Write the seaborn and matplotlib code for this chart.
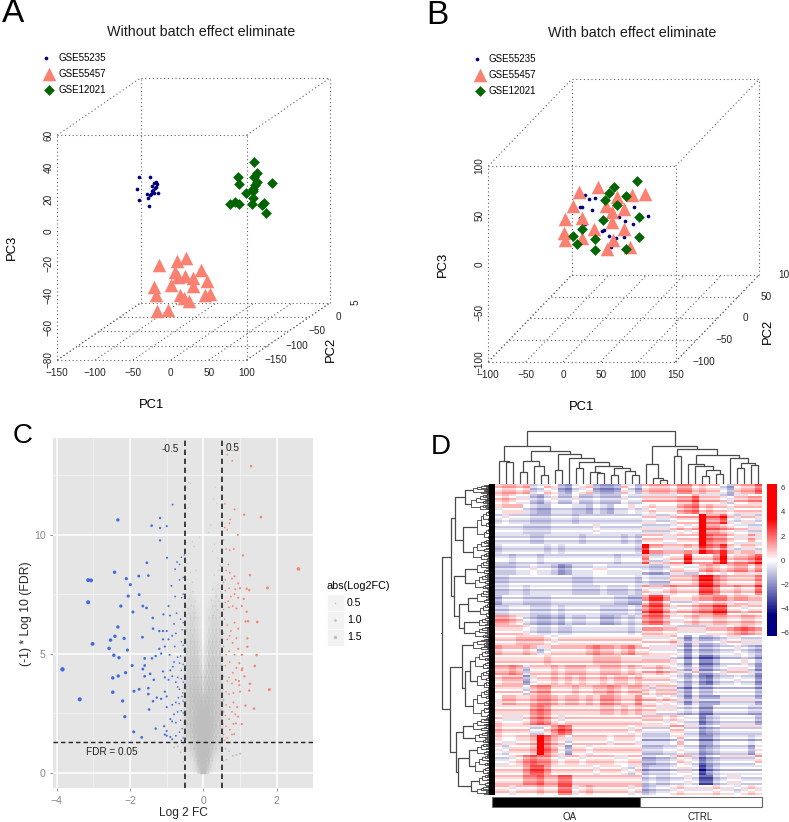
import numpy as np
import pandas as pd
import matplotlib
matplotlib.use("Agg")
import matplotlib.pyplot as plt
from matplotlib.colors import LinearSegmentedColormap
from matplotlib.patches import Rectangle
import seaborn as sns

sns.set_style("white")
plt.rcParams['font.family'] = ['Liberation Sans', 'DejaVu Sans']

W, H = 789, 822
NAVY, SALMON, GREEN = '#00007F', '#FA8072', '#006400'
BATCHES = ['GSE55235', 'GSE55457', 'GSE12021']

# ---- panel A (apparent PC1 / PC3 on the front plane of the box)
a_dot_pc1 = [-42.2,-27.2,-45.2,-42.2,-29,-29.8,-32,-26.8,-22,-16.6,-23.2,-20.2,-25,-19.7,-22.4,-18.8,-21,-24.6,-28]
a_dot_pc3 = [33.7,33.9,26.4,19.6,15.6,20.6,23.1,23.3,24.1,24.1,25.8,27.9,28.5,30.8,30,29.5,26.8,25.4,22.7]
a_tri_pc1 = [-15.8,8,19.5,39.3,4.9,18.6,29.6,8.9,48,0.5,28.7,-22,-20,12,17.7,23.4,45.4,51.6,-18.4,-3.4]
a_tri_pc3 = [-20.9,-18.2,-16.7,-24,-25,-27.7,-28.8,-28.1,-30.6,-33.3,-34,-34.4,-39.5,-39.8,-41.2,-43.3,-39.5,-39,-49.3,-48.7]
a_dia_pc1 = [110,89,113.2,109.7,90.3,113.2,111,133.9,108.8,99,107.9,108.8,78.4,85,90.3,106.6,122.9,119.8,126]
a_dia_pc3 = [43.4,34.1,36.2,33.7,29.5,31,28.9,30.2,26.2,23.9,25.4,20.8,17.1,18.1,16.9,17.1,17.7,16.5,11.3]
# ---- panel B
b_dot_pc1 = [29,34.3,42.3,22.3,25,38.8,21.9,29,94.4,73.9,82.4,112.6,93.5,51.2,54.4,61.5,69.9,81,63.3]
b_dot_pc3 = [70.4,66.3,67,57.8,57.8,55,46.8,40.7,58.4,48.2,44.1,48.6,40.4,33.9,34.6,28.4,26.7,27.1,17.5]
b_tri_pc1 = [20.6,46.8,72.2,91.7,109,12.5,57,81,65,1.9,25,65,41.5,81,0.5,2.8,25,66.8,58.8,89.5]
b_tri_pc3 = [73,78.9,68.7,70.4,71.7,59,59,56.4,53.3,46.2,46.8,42.4,35.9,35.6,31.9,24.4,26,24.4,14.8,17.2]
b_dia_pc1 = [98.4,67.7,60.6,84.2,55.7,71.7,100.6,53,25,13.4,41.9,100.6,18.8,42.8,83.7]
b_dia_pc3 = [85,78.9,72.7,69.7,65.2,60.5,47.9,44.8,35.9,28.4,25.4,27.4,20.3,14.5,14.8]
a_pc1_ticks = [-150,-100,-50,0,50,100]
a_pc2_ticks = [-150,-100,-50,0,50]
a_pc3_ticks = [-80,-60,-40,-20,0,20,40,60]
b_pc1_ticks = [-100,-50,0,50,100,150]
b_pc2_ticks = [-100,-50,0,50,100]
b_pc3_ticks = [-100,-50,0,50,100]

# ---- panel C
blue_fc = [-3.84,-3.37,-3.14,-3.06,-3.14,-3.02,-2.33,-2.42,-2.10,-1.99,-2.05,-2.25,-1.92,-2.33,-2.41,-2.53,-2.16,-2.57,-2.07,-2.44,-2.3,-1.94,-2.12,-2.32,-2.47,-2.47,-2.2,-2.14,-1.89,-1.9,-1.68,-1.76,-1.5,-1.54,-1.75,-1.65,-1.55,-1.38,-1.37,-1.66,-1.41,-1.18,-1.18,-1.0,-1.18,-0.84,-0.99,
 -0.59,-0.55,-0.77,-0.95,-0.91,-1.09,-0.73,-0.65,-0.87,-0.52,-0.6,-0.72,-0.65,-0.77,-0.55,-0.62,-0.8,-0.55,-0.58,-0.75,-0.85,-0.95,-1.0,-1.1,-1.2,-1.1,-1.05,-1.2,-1.15,-1.3,-1.4,-1.6,-1.65,-1.6,-1.75,-1.5,-1.45,-1.6,-1.35,-1.5,-1.37,-1.48,-1.27,-1.15,-1.05,-1.0,-1.1,-1.05,-0.95,-0.9,-0.8,-0.7,-0.65,-0.6,-0.55,-0.85,-0.75,-0.7,-0.6,-0.55,-0.65,-0.58,-0.55,-0.75,-0.85,-1.0,-0.8,-0.9,-0.7,-0.6,-0.55,-0.62,-0.52,-0.75,-0.85,-1.07,-1.05,-1.0,-1.3,-1.0,-0.85,-0.75,-0.65,-0.55,-0.6,-0.9,-0.55,-0.6,-0.7,-0.62,-0.53,-0.78,-0.92,-0.83,-0.68,-0.56,-0.66,-0.58]
blue_log = [4.34,3.08,8.09,8.08,7.16,5.41,10.62,8.42,8.15,7.9,7.42,7.0,6.75,6.12,5.73,5.57,5.64,5.22,5.15,4.93,4.83,4.5,4.2,4.06,3.98,3.38,3.01,2.35,3.42,1.71,1.48,8.26,8.28,8.82,7.48,7.0,6.92,6.5,6.05,5.69,10.38,10.7,10.28,10.36,9.76,11.26,9.03,
 7.35,7.5,7.4,7.0,6.6,6.65,6.7,8.1,7.85,9.15,9.05,8.85,8.75,8.55,8.2,6.45,6.25,6.3,6.0,5.85,5.75,5.6,5.95,5.95,5.95,5.6,5.3,5.2,5.0,4.9,4.8,4.8,4.35,4.5,3.5,3.55,4.15,4.05,3.9,3.3,3.0,2.65,3.15,3.1,3.4,3.2,4.25,4.0,3.9,4.3,4.65,4.85,4.6,4.3,4.55,4.05,3.8,3.6,3.95,3.8,3.5,3.2,3.0,2.95,2.85,2.75,2.45,2.25,2.55,2.6,2.5,2.2,2.1,2.1,2.15,1.95,1.6,1.75,1.85,1.55,1.4,1.55,1.7,1.45,1.35,1.5,5.35,5.5,4.0,4.9,5.15,5.3,4.95,4.45,3.15,3.35,2.9,1.85]
red_fc = [2.59,1.3,0.79,0.65,1.57,1.11,0.85,0.59,0.73,0.71,0.94,0.55,1.08,1.75,1.8,1.47,1.18,1.45,1.4,1.38,1.27,1.25,1.18,1.22,1.15,1.2,1.2,1.06,1.05,1.27,1.25,1.15,1.05,0.98,0.89,0.84,
 0.55,0.62,0.68,0.78,0.85,0.95,0.6,0.7,0.87,1.0,0.6,0.68,0.75,0.85,0.95,1.1,0.55,0.7,0.8,0.9,1.05,0.58,0.65,0.75,0.85,0.95,0.55,0.65,0.72,0.8,0.9,0.55,0.62,0.7,0.85,0.95,1.05,0.52,0.6,0.72,0.8,0.9,0.98,0.55,0.65,0.7,0.78,0.88,0.97,1.12,0.53,0.62,0.7,0.82,1.0,0.55,0.62,0.72,0.82,0.92,0.55,0.6,0.7,0.78,0.87,0.95,0.53,0.62,0.72,0.82,0.55,0.65,0.78,0.58,0.72,0.62,0.72,0.83,0.6,0.58,0.65]
red_log = [8.56,12.88,13.1,13.36,10.74,10.84,11.06,11.3,10.64,10.48,9.99,9.78,9.13,7.76,3.49,6.33,6.76,4.94,4.48,2.69,8.3,7.67,7.73,6.36,6.35,5.64,5.29,4.38,4.31,3.73,3.45,2.82,2.04,3.68,2.07,1.62,
 8.0,8.5,8.75,8.15,8.25,7.95,7.65,7.75,7.7,7.75,7.15,7.2,7.4,7.5,7.35,7.3,6.85,6.95,7.0,6.9,7.0,6.45,6.2,5.95,6.3,6.05,5.85,5.6,5.75,5.45,5.65,5.3,4.95,5.1,4.95,5.2,4.95,4.75,4.5,4.65,4.2,4.4,4.6,4.05,3.85,4.0,3.75,3.9,3.85,4.05,3.55,3.4,3.3,3.35,3.4,3.05,2.85,2.75,2.95,2.75,2.55,2.4,2.25,2.55,2.45,2.35,2.05,1.95,1.8,2.05,1.6,1.45,1.6,1.35,8.4,9.4,9.35,9.4,8.1,10.3,10.2]
grey_fc = [-0.4,-0.35,-0.35,-0.45,0.32,0.28,0.37,-0.1,0.15,0.2,-0.3,-0.25,0.3,0.25,-0.4,-0.45,0.4,0.45,-0.35,-0.2,0.3,0.42,-0.45,-0.3,0.4,0.25,-0.28,0.35,0.42,-0.38,-0.46,-0.33,0.3,0.47,0.22,-0.22,-0.55,-0.7,0.9,0.8,1.0,-0.55,-0.8,0.6,0.7,-0.5,0.5,0.55,-0.62,0.63,-0.42,0.38,-0.25,0.27,-0.35,0.44]
grey_log = [12.2,12.15,11.3,11.1,12.0,11.5,11.3,9.9,10.1,10.4,9.7,9.5,9.6,9.3,9.2,8.8,9.0,8.7,8.4,8.5,8.3,8.5,8.1,8.0,7.9,7.7,7.6,7.4,7.2,7.3,7.7,7.05,7.0,7.6,7.25,7.2,1.2,1.1,0.75,0.7,0.8,0.45,1.05,1.0,0.9,0.8,0.8,0.5,0.85,0.55,6.9,6.85,6.7,6.6,6.5,6.55]
cloud_x = [-0.55,-0.45,-0.35,-0.25,-0.15,-0.05,0.05,0.15,0.25,0.35,0.45,0.55]
cloud_y = [-0.05,0.5,1,1.5,2,2.5,3,3.5,4,4.5,5,5.5,6,6.5,7,7.5,8]
cloud_density = [
 [0,0,0,0,1,8,8,1,0,0,0,0],
 [0,0,0,1,6,9,9,6,1,0,0,0],
 [0,1,2,4,8,9,9,8,4,2,1,0],
 [1,3,4,6,9,9,9,9,6,4,3,1],
 [1,4,5,7,9,9,9,9,7,5,4,1],
 [1,4,5,6,8,9,9,8,6,5,4,1],
 [1,4,5,6,7,7,7,7,6,5,4,1],
 [1,4,5,6,6,4,4,6,6,5,4,1],
 [0,3,4,5,4,3,3,4,5,4,3,0],
 [0,3,4,4,4,1,1,4,4,4,3,0],
 [0,3,3,4,3,1,1,3,4,3,3,0],
 [0,2,3,3,2,0,0,2,3,3,2,0],
 [0,2,2,2,1,0,0,1,2,2,2,0],
 [0,1,2,2,1,0,0,1,2,2,1,0],
 [0,1,1,1,0,0,0,0,1,1,1,0],
 [0,0,1,0,0,0,0,0,0,1,0,0],
 [0,0,0,0,0,0,0,0,0,0,0,0]]
size_legend = [0.5, 1.0, 1.5]

# ---- panel D (half units), 31 coarse row blocks x 38 samples (21 OA, 17 CTRL)
heat_blocks = [
 [1,2,2,1,2,-2,-1,1,0,-3,-4,-1,0,1,-3,-4,-4,-3,1,-1,-3, 1,2,2,2,1,3,3,1,2,1,1,-1,-3,1,2,2,4],
 [1,2,1,0,0,-2,-3,-1,0,-2,-2,0,-2,-2,-1,-2,-2,-2,0,-1,-1, 1,1,1,1,1,2,2,4,1,1,1,0,-1,1,1,2,2],
 [0,1,1,1,-1,-2,-3,-3,-1,-1,-1,-2,-2,-3,-1,-2,-3,-1,-1,0,-1, 0,1,0,0,0,2,3,4,1,2,1,1,0,1,1,1,1],
 [-1,0,-1,-1,-1,-2,-2,-2,-1,-1,-1,-2,-1,-1,-1,-1,-1,-1,-1,-1,-1, 0,0,-1,-1,0,1,1,1,8,3,3,5,0,-1,0,0,-1],
 [-1,-1,-1,-1,-2,-2,-2,-2,-1,-1,-1,-1,-1,-1,0,-1,-1,-1,-1,-1,-1, -1,-1,-1,-1,0,1,0,1,9,3,3,2,1,0,0,-1,-1],
 [-1,-1,-1,-1,-1,-2,-2,-1,-1,-1,-1,-1,-2,-1,-1,-1,-1,-1,-2,-1,-2, 1,1,1,0,0,1,1,1,9,4,3,3,1,0,0,2,0],
 [-2,-1,-1,-1,-1,-1,-1,-2,-1,-2,-1,-1,-1,-1,-1,-1,-1,-1,-1,-1,-2, 7,2,2,1,1,1,2,1,6,4,3,5,1,0,1,1,0],
 [-1,-1,-2,-1,-1,-1,-2,-1,-1,-1,-1,-1,-1,-1,-1,-1,-1,-2,-1,-1,-1, 3,-1,-1,0,1,1,6,1,1,1,3,7,1,2,2,3,5],
 [-2,-2,-2,-1,-1,0,-1,-1,-2,-4,-3,-1,-1,-1,0,0,-1,-1,-1,-1,-1, -1,-2,-2,-1,1,1,0,0,2,3,2,1,2,3,3,1,3],
 [-2,-2,-1,-1,-1,-1,-1,-1,-1,-1,-1,-2,-2,-2,-1,-1,-1,-1,-1,-1,-2, -1,-2,-2,-2,1,1,1,2,6,6,3,2,1,1,1,1,3],
 [-2,-2,-1,-1,-2,-1,-1,-1,-1,-1,-1,-2,-2,-2,-2,-1,-2,-2,-2,-1,-2, 1,0,0,1,2,1,1,1,5,5,3,1,1,2,1,1,4],
 [-3,-1,-1,-1,-2,-2,-2,-2,-1,-1,-1,-1,-1,-1,-1,-1,-1,-2,-2,-3,-3, 2,5,5,2,0,0,0,1,2,2,3,3,1,2,2,1,1],
 [-2,-2,-1,-1,-1,-2,-2,-2,-1,-2,-1,-1,-1,-1,-1,-2,-2,-2,-2,-1,-2, 3,5,5,2,0,1,1,2,3,3,5,5,1,1,0,1,1],
 [3,3,2,1,-1,-2,-3,-3,-2,-3,-1,-2,-2,-1,-1,-3,-3,-2,-1,-2,-1, 3,4,4,2,0,0,1,2,1,1,2,2,1,1,2,2,1],
 [1,1,1,1,0,-1,-2,-2,-1,-2,-2,-1,-1,-1,-1,-1,-1,-1,-1,-2,-1, 2,2,2,1,1,0,0,0,0,1,1,1,2,3,4,3,2],
 [1,1,1,2,2,2,2,1,0,1,1,1,1,1,1,1,1,1,1,1,1, 0,0,0,0,1,-1,-4,-1,-3,-3,-2,-1,0,0,-1,-1,-1],
 [2,1,1,1,2,1,-2,0,1,1,1,1,1,2,3,2,2,1,2,3,1, 1,0,0,0,0,-1,-4,-1,-3,-3,-2,-1,-1,0,-1,-2,-3],
 [1,1,1,1,1,1,1,2,1,1,1,1,1,1,2,2,2,2,1,1,1, 1,1,1,1,0,-1,-4,-1,-5,-5,-3,-1,-1,-1,0,-1,-3],
 [2,2,3,2,-2,1,1,1,2,1,2,2,2,1,1,2,2,2,1,2,1, 1,1,2,1,0,-1,-3,0,-4,-4,-2,-1,0,0,0,-1,-4],
 [1,2,2,2,-3,0,1,1,2,1,2,1,2,1,1,2,1,2,2,1,2, 1,1,1,1,0,-1,-3,-1,-4,-5,-2,-1,-1,0,-1,-1,-4],
 [1,1,1,1,-1,2,3,3,1,1,1,2,1,1,2,2,3,2,1,2,2, 1,0,1,1,1,-2,-4,-1,-3,-3,-1,-1,-1,-1,-1,-1,-3],
 [0,2,2,1,1,2,3,3,2,1,2,2,1,2,1,3,3,2,1,1,3, 1,1,0,1,0,-1,-4,-1,-3,-3,-3,-1,-1,-1,-1,-1,-3],
 [1,1,1,1,1,3,4,3,1,1,1,1,1,1,1,2,2,1,2,1,2, 1,1,0,0,0,-1,-2,-1,-4,-4,-1,-1,-1,-1,-1,-2,-2],
 [1,0,0,0,1,3,4,3,1,0,1,1,1,1,1,1,1,1,1,1,1, 1,1,1,0,1,0,-1,-1,-5,-3,-2,-1,-1,-1,-1,-1,-3],
 [2,1,1,1,1,-1,-1,1,3,5,4,1,1,1,1,1,1,1,1,0,1, -1,-1,-1,-1,1,1,-1,-1,-4,-3,-2,-1,-1,-1,-1,-1,-1],
 [1,0,0,1,1,2,9,4,2,1,-1,1,1,1,1,1,0,1,1,1,0, -2,-2,-2,-2,-1,1,-1,-1,-4,-4,-2,-1,-1,-1,-1,-2,-1],
 [0,-1,1,1,1,2,9,4,2,0,-3,1,1,0,1,1,1,1,1,1,1, -2,-2,-2,-1,-1,0,-1,-1,-4,-3,-2,-1,-1,-1,-1,-3,0],
 [-1,-1,0,1,3,4,3,3,1,0,1,1,0,1,1,1,1,0,0,1,1, -3,-3,-2,-2,-1,1,0,-1,-5,-3,-2,-1,-1,-1,-1,-1,1],
 [1,1,1,1,3,5,5,3,1,1,1,1,1,1,0,1,1,1,0,-1,1, -3,-2,-2,-2,-1,0,0,-1,-7,-4,-2,-1,-1,-1,-1,-1,-1],
 [1,1,1,1,3,3,4,2,2,4,4,1,1,1,1,1,1,1,1,1,1, -2,-1,-2,-2,-1,-1,0,-1,-6,-6,-2,-1,0,0,-1,-1,-1],
 [1,1,0,1,1,1,2,1,1,4,4,0,1,2,1,1,1,1,1,0,1, -3,-2,-1,-1,0,1,0,0,0,0,1,0,0,-1,0,1,0]]
# per-row adjustment (half units) of the 155 fine rows, read as the thin stripes of each side
stripes_oa = [0,1,-1,0,1,0,-1,1,0,-1,1,1,-1,0,0,-1,1,0,-1,0,1,-1,0,1,0,0,-1,1,-1,0,1,0,-1,0,1,-1,0,1,1,-1,0,-1,1,0,0,1,-1,0,-1,1,
 0,1,-1,0,0,1,-1,1,0,-1,0,1,-1,1,0,0,-1,1,0,-1,1,0,0,-1,1,-1,0,1,-1,0,1,1,-1,0,1,-1,0,0,1,-1,1,0,-1,0,1,-1,1,0,-1,0,
 1,0,-1,1,-1,0,0,1,-1,1,0,-1,1,0,0,-1,1,-1,0,1,0,-1,1,0,-1,1,0,0,-1,1,-1,0,1,0,-1,1,-1,0,1,0,0,-1,1,0,-1,1,0,-1,0,1,1,-1,0,1,-1]
stripes_ct = [1,-1,0,1,0,-2,1,0,2,-1,0,1,-1,1,0,-1,2,0,-1,1,-1,0,2,-1,0,1,-1,1,0,-1,1,0,-2,1,1,-1,0,1,-1,2,0,-1,0,1,-2,1,0,1,-1,0,
 2,-1,0,1,-1,0,1,1,-2,0,1,-1,0,2,-1,1,0,-1,1,0,-2,1,1,-1,0,1,-1,0,2,0,-1,1,-1,0,1,0,-2,1,1,-1,0,1,-1,2,0,-1,0,1,-1,0,
 1,-2,1,0,1,-1,0,2,-1,0,1,-1,1,0,-2,1,0,1,-1,0,2,-1,1,0,-1,0,1,-2,1,1,-1,0,1,0,-1,2,-1,0,1,-1,0,1,-2,1,0,1,-1,0,1,-1,0,1,-1,0,1]
heat_ticks = [-6,-4,-2,0,2,4,6]
group_labels = ['OA', 'CTRL']
n_oa = 21

# dendrograms: (height, left, right); an int is a leaf (column) or a tuft (row count, tuft height)
col_tree = (53,
  (38, (23,0,(22,0,0)),
       (33, (23,(12,0,0),(18,0,(9,0,0))),
            (30, (14,0,0),
                 (26, 0, (22, (16,0,0), (18, (12,0,(11,0,0)), (16,(9,0,0),(13,0,(9,0,0))))))))),
  (38, (20,0,(6,0,(4,0,0))),
       (35, (28,0,0),
            (29, (20,0,(18,0,(14,(8,0,0),(10,0,0)))),
                 (26,0,(21,(16,0,0),(19,0,0)))))))
T = lambda n, h: ('t', n, h)
row_tree = (53,
  (44, (40, (30,T(5,22),T(8,24)), (32,T(15,18),T(11,22))),
       (41, (30,T(7,18),T(8,20)),
            (36, (27,T(7,18),T(7,15)), (31,T(5,16),T(6,20))))),
  (45, (33, T(6,22), (30, (25,T(10,20),T(10,18)), T(15,22))),
       (39, (32,T(7,22),T(6,20)),
            (37, (26,T(6,18),T(10,20)), (24,T(6,16),T(5,18))))))
ROW_LEAF_FACTOR = 4

fig = plt.figure(figsize=(W/100, H/100), dpi=100)

def px_axes(l, t, r, b, **kw):
    return fig.add_axes([l/W, 1-b/H, (r-l)/W, (b-t)/H], **kw)

overlay = px_axes(0, 0, W, H, zorder=10)
overlay.set_xlim(0, W); overlay.set_ylim(H, 0); overlay.axis('off')
overlay.patch.set_alpha(0)

def txt(x, y, s, size=7, ha='center', va='center', rot=0, color='black'):
    overlay.text(x, y, s, fontsize=size, ha=ha, va=va, rotation=rot, color=color)

def minus(v):
    return str(v).replace('-', '\u2212')

MARKERS = [('o', NAVY, 7), ('^', SALMON, 95), ('D', GREEN, 30)]

def box3d(rect, xr, yr, zr, xt, yt, zt, pts, off, kw):
    ax = px_axes(*rect)
    ax.set_xlim(kw['xlim']); ax.set_ylim(kw['ylim']); ax.axis('off')
    ox, oz = off
    def proj(x, y, z):
        f = (y - yr[0]) / (yr[1] - yr[0])
        return x + f*ox, z + f*oz
    def seg(a, b):
        p, q = proj(*a), proj(*b)
        ax.plot([p[0], q[0]], [p[1], q[1]], color='#606060', lw=0.8, ls=(0, (1, 2.4)), zorder=1, clip_on=False)
    x0, x1 = xr; y0, y1 = yr; z0, z1 = zr
    for y in yt:
        seg((x0, y, z0), (x1, y, z0))
    for x in xt:
        seg((x, y0, z0), (x, y1, z0))
    seg((x0, y0, z0), (x0, y0, z1)); seg((x1, y0, z0), (x1, y0, z1)); seg((x0, y0, z1), (x1, y0, z1))
    seg((x0, y1, z0), (x0, y1, z1)); seg((x1, y1, z0), (x1, y1, z1)); seg((x0, y1, z1), (x1, y1, z1))
    seg((x0, y0, z1), (x0, y1, z1)); seg((x1, y0, z1), (x1, y1, z1)); seg((x1, y0, z0), (x1, y1, z0)); seg((x0, y0, z0), (x0, y1, z0))
    for (px, pz), (m, c, s) in zip(pts, MARKERS):
        sns.scatterplot(x=px, y=pz, marker=m, color=c, s=s, linewidth=0, ax=ax, zorder=3, legend=False, clip_on=False)
    ax.set_xlim(kw['xlim']); ax.set_ylim(kw['ylim']); ax.set_xlabel(''); ax.set_ylabel('')
    for x in xt:
        p = proj(x, y0, z0)
        ax.annotate(minus(x), p, xytext=(0, -13), textcoords='offset pixels', ha='center', va='center', fontsize=7.2, color='#222222', annotation_clip=False)
    for z in zt:
        p = proj(x0, y0, z)
        ax.annotate(minus(z), p, xytext=(-9, 0), textcoords='offset pixels', ha='center', va='center', rotation=90, fontsize=7.2, color='#222222', annotation_clip=False)
    for y in yt:
        p = proj(x1, y, z0)
        last = y == yt[-1]
        ax.annotate(kw.get('last_label', minus(y)) if last else minus(y), p,
                    xytext=(kw['y_off'] if not last else kw['last_off'], 0), textcoords='offset pixels',
                    ha=kw.get('last_ha', 'center') if last else 'center', va='center', fontsize=7.2, color='#222222',
                    rotation=kw.get('last_rot', 0) if last else 0, annotation_clip=False)

# A
a_ppx, a_ppz = 2.272/3, 4.82/3
rect_a = (57.3, 78.3, 330, 360)
box3d(rect_a, (-150, 100), (-150, 50), (-80, 60), a_pc1_ticks, a_pc2_ticks, a_pc3_ticks,
      [(a_dot_pc1, a_dot_pc3), (a_tri_pc1, a_tri_pc3), (a_dia_pc1, a_dia_pc3)], (110.5, 35.7),
      dict(xlim=(-150, -150 + (330-57.3)/a_ppx), ylim=(-80, -80 + (360-78.3)/a_ppz), y_off=29, last_off=25, last_label='5', last_rot=90))
# B
b_ppx, b_ppz = 2.248/3, 2.935/3
rect_b = (488.3, 80, 759, 361.7)
box3d(rect_b, (-100, 150), (-100, 100), (-100, 100), b_pc1_ticks, b_pc2_ticks, b_pc3_ticks,
      [(b_dot_pc1, b_dot_pc3), (b_tri_pc1, b_tri_pc3), (b_dia_pc1, b_dia_pc3)], (111.2, 88.6),
      dict(xlim=(-100, -100 + (759-488.3)/b_ppx), ylim=(-100, -100 + (361.7-80)/b_ppz), y_off=28, last_off=19, last_label='10', last_ha='left'))

for (tx, ty, t), (lx, tx2), ys in [((201, 32, 'Without batch effect eliminate'), (49, 58.7), (58, 74, 90)),
                                   ((632, 33, 'With batch effect eliminate'), (480, 489), (59, 75, 91))]:
    txt(tx, ty, t, size=10.3, color='#1a1a1a')
    for y, name, (m, c, s) in zip(ys, BATCHES, MARKERS):
        overlay.scatter([lx - (3 if m == 'o' else 0)], [y], marker=m, color=c, s=s, linewidths=0, clip_on=False)
        txt(tx2, y, name, size=7, ha='left')
txt(152, 405, 'PC1', size=9.4); txt(12, 247, 'PC3', size=9.4, rot=90); txt(331, 349, 'PC2', size=9.4, rot=90)
txt(582, 407, 'PC1', size=9.4); txt(442.7, 264, 'PC3', size=9.4, rot=90); txt(767.7, 331, 'PC2', size=9.4, rot=90)

# C
ax = px_axes(53.3, 438.3, 312.7, 788.3)
ax.set_facecolor('#E5E5E5')
xlim, ylim = (-4.09, 2.98), (-0.66, 14.05)
for v in [-3, -1, 1]:
    ax.axvline(v, color='#F2F2F2', lw=0.6, zorder=0.5)
for v in [2.5, 7.5, 12.5]:
    ax.axhline(v, color='#F2F2F2', lw=0.6, zorder=0.5)
for v in [-4, -2, 0, 2]:
    ax.axvline(v, color='white', lw=1.1, zorder=0.6)
for v in [0, 5, 10]:
    ax.axhline(v, color='white', lw=1.1, zorder=0.6)
gray_alpha = LinearSegmentedColormap.from_list('cl', [(0.745, 0.745, 0.745, 0), (0.745, 0.745, 0.745, 1)])
ax.pcolormesh(cloud_x, cloud_y, np.array(cloud_density, float), cmap=gray_alpha, vmin=0, vmax=9, shading='gouraud', zorder=1)
vol = pd.DataFrame({
    'fc': blue_fc + red_fc + grey_fc,
    'log': blue_log + red_log + grey_log,
    'grp': ['down']*len(blue_fc) + ['up']*len(red_fc) + ['ns']*len(grey_fc)})
vol['abs'] = vol['fc'].abs()
sns.scatterplot(data=vol, x='fc', y='log', hue='grp', palette={'down': '#3E6BE0', 'up': '#F4836F', 'ns': '#BEBEBE'},
                size='abs', sizes=(0.7, 10), size_norm=(0.4, 3.84), linewidth=0, legend=False, ax=ax, zorder=2)
for v in [-0.5, 0.5]:
    ax.axvline(v, color='#222222', lw=1.2, ls=(0, (3.2, 2.2)), zorder=3)
ax.axhline(1.3, color='#222222', lw=1.0, ls=(0, (3.2, 2.2)), zorder=3)
ax.set_xlim(xlim); ax.set_ylim(ylim)
ax.set_xticks([-4, -2, 0, 2]); ax.set_yticks([0, 5, 10])
ax.set_xticklabels([minus(v) for v in [-4, -2, 0, 2]]); ax.set_yticklabels(['0', '5', '10'])
ax.tick_params(length=2, width=0.6, color='#7F7F7F', labelcolor='#8A8A8A', labelsize=7.6, pad=3.5, bottom=True, left=True)
for s in ax.spines.values():
    s.set_visible(False)
ax.set_xlabel('Log 2 FC', fontsize=8.6, labelpad=0.5)
ax.set_ylabel('(-1) * Log 10 (FDR)', fontsize=8.8, labelpad=1.5)
ax.text(-0.89, 13.6, '-0.5', fontsize=7.2, ha='center', va='center', color='#222222', zorder=4)
ax.text(0.81, 13.64, '0.5', fontsize=7.2, ha='center', va='center', color='#222222', zorder=4)
ax.text(-2.5, 0.88, 'FDR = 0.05', fontsize=7.2, ha='center', va='center', color='#222222', zorder=4)
txt(327, 586, 'abs(Log2FC)', size=7.8, ha='left')
for i, v in enumerate(size_legend):
    yk = 594 + 17.3*i
    overlay.add_patch(Rectangle((327, yk), 16.8, 17.3, fc='#F2F2F2', ec='white', lw=0.5))
    overlay.scatter([335.4], [yk + 8.6], s=1.2 + 2.4*i, color='#BEBEBE', linewidths=0)
    txt(347, yk + 8.6, f'{v:.1f}', size=7.6, ha='left')

# D
blocks = np.array(heat_blocks, float)
fine = np.repeat(blocks, 5, axis=0)
fine[:, :n_oa] += np.array(stripes_oa, float)[:, None]
fine[:, n_oa:] += np.array(stripes_ct, float)[:, None]
heat = pd.DataFrame(fine / 2.0)
cmap = LinearSegmentedColormap.from_list('bwr2', [
    (0.0, '#000080'), (0.135, '#000080'), (0.5, '#FFFFFF'), (0.5 + 3.4/12.6, '#FF0000'), (1.0, '#FF0000')])
hax = px_axes(495, 484.3, 761.7, 795)
cax = px_axes(766.7, 484.3, 776.7, 636)
sns.heatmap(heat, ax=hax, cbar_ax=cax, cmap=cmap, vmin=-6.3, vmax=6.3, xticklabels=False, yticklabels=False)
cax.set_yticks(heat_ticks); cax.set_yticklabels([minus(v) for v in heat_ticks])
cax.tick_params(length=0, labelsize=5.6, pad=3, labelcolor='#333333')

DCOL = '#4a4a4a'
def draw_col(node, dax, st):
    if node == 0:
        x = st['i'] + 0.5; st['i'] += 1
        return x, 0
    h, l, r = node
    xl, hl = draw_col(l, dax, st); xr, hr = draw_col(r, dax, st)
    dax.plot([xl, xl, xr, xr], [hl, h, h, hr], color=DCOL, lw=0.9, solid_joinstyle='miter')
    return (xl + xr)/2, h
dax = px_axes(495, 428, 761.7, 484.3)
dax.set_xlim(0, 38); dax.set_ylim(0, 56.3); dax.axis('off')
x_root, h_root = draw_col(col_tree, dax, {'i': 0})

def draw_tuft(n, h, rax, st):
    if n == 1:
        y = st['i'] + 0.5; st['i'] += 1
        return y, 0
    a = min(n - 1, int(np.ceil(n*0.6)))
    ya, ha_ = draw_tuft(a, h*0.8 if a > 1 else h, rax, st)
    yb, hb = draw_tuft(n-a, h*0.62 if n-a > 1 else h, rax, st)
    rax.plot([ha_, h, h, hb], [ya, ya, yb, yb], color='#303030', lw=0.55)
    return (ya + yb)/2, h

def draw_row(node, rax, st):
    if node[0] == 't':
        return draw_tuft(node[1]*ROW_LEAF_FACTOR, node[2], rax, st)
    h, l, r = node
    yl, hl = draw_row(l, rax, st); yr, hr = draw_row(r, rax, st)
    rax.plot([hl, h, h, hr], [yl, yl, yr, yr], color=DCOL, lw=0.9)
    return (yl + yr)/2, h
def count(node):
    return node[1]*ROW_LEAF_FACTOR if node[0] == 't' else count(node[1]) + count(node[2])
rax = px_axes(439, 484.3, 495, 795)
total = count(row_tree)
rax.set_xlim(56, 0); rax.set_ylim(total, 0); rax.axis('off')
y_root, h_r = draw_row(row_tree, rax, {'i': 0})
rax.plot([h_r, 54], [y_root, y_root], color=DCOL, lw=0.9)
rax.add_patch(Rectangle((0, 0), 6.5, total, fc='black', ec='none', zorder=5))

overlay.add_patch(Rectangle((491.7, 797.3), 148.3, 9.4, fc='black', ec='#666666', lw=0.6))
overlay.add_patch(Rectangle((640, 797.3), 121.7, 9.4, fc='white', ec='#666666', lw=0.8))
txt(570, 816.5, group_labels[0], size=7, color='#222222')
txt(700, 816.5, group_labels[1], size=7, color='#222222')

# panel letters
txt(13.5, 14, 'A', size=24); txt(437.5, 15.5, 'B', size=24)
txt(22.5, 436, 'C', size=20); txt(440.5, 447, 'D', size=20)

fig.savefig('out.png', dpi=100)
